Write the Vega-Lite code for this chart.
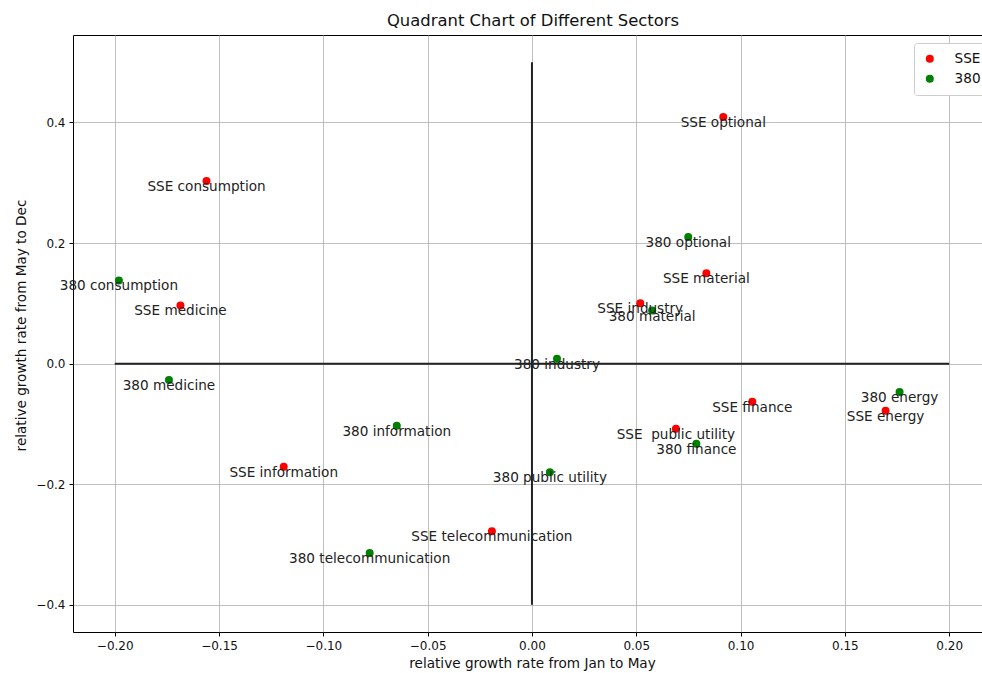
{
  "$schema": "https://vega.github.io/schema/vega-lite/v6.json",
  "width": 910,
  "height": 597,
  "autosize": {"type": "none"},
  "padding": {"left": 73, "top": 35, "right": 0, "bottom": 41},
  "background": "white",
  "config": {
    "font": "DejaVu Sans",
    "view": {"stroke": "black", "strokeWidth": 1},
    "axis": {
      "grid": true,
      "gridColor": "#b0b0b0",
      "gridWidth": 0.8,
      "domain": false,
      "tickColor": "black",
      "tickSize": 4,
      "labelFontSize": 12,
      "labelColor": "#111",
      "titleFontSize": 13.6,
      "titleFontWeight": "normal",
      "titleColor": "#111",
      "labelFont": "DejaVu Sans",
      "titleFont": "DejaVu Sans"
    }
  },
  "title": {
    "text": "Quadrant Chart of Different Sectors",
    "fontSize": 16.4,
    "fontWeight": "normal",
    "font": "DejaVu Sans",
    "color": "#111",
    "anchor": "middle",
    "dx": 5,
    "offset": 6
  },
  "datasets": {
    "points": [
      {"x": -0.156, "y": 0.303, "group": "SSE", "label": "SSE consumption"},
      {"x": -0.198, "y": 0.138, "group": "380", "label": "380 consumption"},
      {"x": -0.1685, "y": 0.0965, "group": "SSE", "label": "SSE medicine"},
      {"x": -0.174, "y": -0.027, "group": "380", "label": "380 medicine"},
      {"x": 0.0917, "y": 0.409, "group": "SSE", "label": "SSE optional"},
      {"x": 0.0749, "y": 0.21, "group": "380", "label": "380 optional"},
      {"x": 0.0836, "y": 0.15, "group": "SSE", "label": "SSE material"},
      {"x": 0.0519, "y": 0.1, "group": "SSE", "label": "SSE industry"},
      {"x": 0.0576, "y": 0.088, "group": "380", "label": "380 material"},
      {"x": 0.012, "y": 0.0083, "group": "380", "label": "380 industry"},
      {"x": 0.1056, "y": -0.063, "group": "SSE", "label": "SSE finance"},
      {"x": 0.1762, "y": -0.047, "group": "380", "label": "380 energy"},
      {"x": 0.1695, "y": -0.078, "group": "SSE", "label": "SSE energy"},
      {"x": 0.069, "y": -0.108, "group": "SSE", "label": "SSE \u00a0public utility"},
      {"x": 0.0788, "y": -0.133, "group": "380", "label": "380 finance"},
      {"x": -0.0648, "y": -0.103, "group": "380", "label": "380 information"},
      {"x": -0.119, "y": -0.171, "group": "SSE", "label": "SSE information"},
      {"x": 0.0086, "y": -0.18, "group": "380", "label": "380 public utility"},
      {"x": -0.0192, "y": -0.278, "group": "SSE", "label": "SSE telecommunication"},
      {"x": -0.0778, "y": -0.314, "group": "380", "label": "380 telecommunication"}
    ],
    "lines": [
      {"x": -0.2, "x2": 0.2, "y": 0, "y2": 0},
      {"x": 0, "x2": 0, "y": -0.4, "y2": 0.5}
    ]
  },
  "layer": [
    {
      "data": {"name": "points"},
      "mark": {"type": "point", "filled": true, "opacity": 1, "size": 64, "shape": "circle"},
      "encoding": {
        "x": {
          "field": "x", "type": "quantitative",
          "scale": {"domain": [-0.22, 0.2162], "nice": false, "zero": false},
          "axis": {
            "values": [-0.2, -0.15, -0.1, -0.05, 0, 0.05, 0.1, 0.15, 0.2],
            "format": ".2f",
            "labelExpr": "replace(datum.label, '-', '−')",
            "title": "relative growth rate from Jan to May",
            "titleX": 459,
            "titlePadding": 5,
            "labelPadding": 4
          }
        },
        "y": {
          "field": "y", "type": "quantitative",
          "scale": {"domain": [-0.445, 0.545], "nice": false, "zero": false},
          "axis": {
            "values": [-0.4, -0.2, 0, 0.2, 0.4],
            "format": ".1f",
            "labelExpr": "replace(datum.label, '-', '−')",
            "title": "relative growth rate from May to Dec",
            "titleY": 290,
            "titlePadding": 7,
            "labelPadding": 4
          }
        },
        "color": {
          "field": "group", "type": "nominal",
          "scale": {"domain": ["SSE", "380"], "range": ["red", "green"]},
          "legend": {
            "title": null,
            "orient": "none",
            "legendX": 841,
            "legendY": 8,
            "fillColor": "white",
            "strokeColor": "#cccccc",
            "cornerRadius": 3,
            "padding": 9,
            "symbolType": "circle",
            "symbolSize": 64,
            "labelFontSize": 13.6,
            "labelColor": "#111",
            "labelFont": "DejaVu Sans",
            "rowPadding": 5,
            "labelOffset": 18
          }
        }
      }
    },
    {
      "data": {"name": "lines"},
      "mark": {"type": "rule", "color": "#222", "strokeWidth": 2},
      "encoding": {
        "x": {"field": "x", "type": "quantitative"},
        "x2": {"field": "x2"},
        "y": {"field": "y", "type": "quantitative"},
        "y2": {"field": "y2"}
      }
    },
    {
      "data": {"name": "points"},
      "mark": {"type": "text", "fontSize": 13.6, "font": "DejaVu Sans", "color": "#222", "align": "center", "baseline": "middle", "dy": 6},
      "encoding": {
        "x": {"field": "x", "type": "quantitative"},
        "y": {"field": "y", "type": "quantitative"},
        "text": {"field": "label"}
      }
    }
  ]
}
